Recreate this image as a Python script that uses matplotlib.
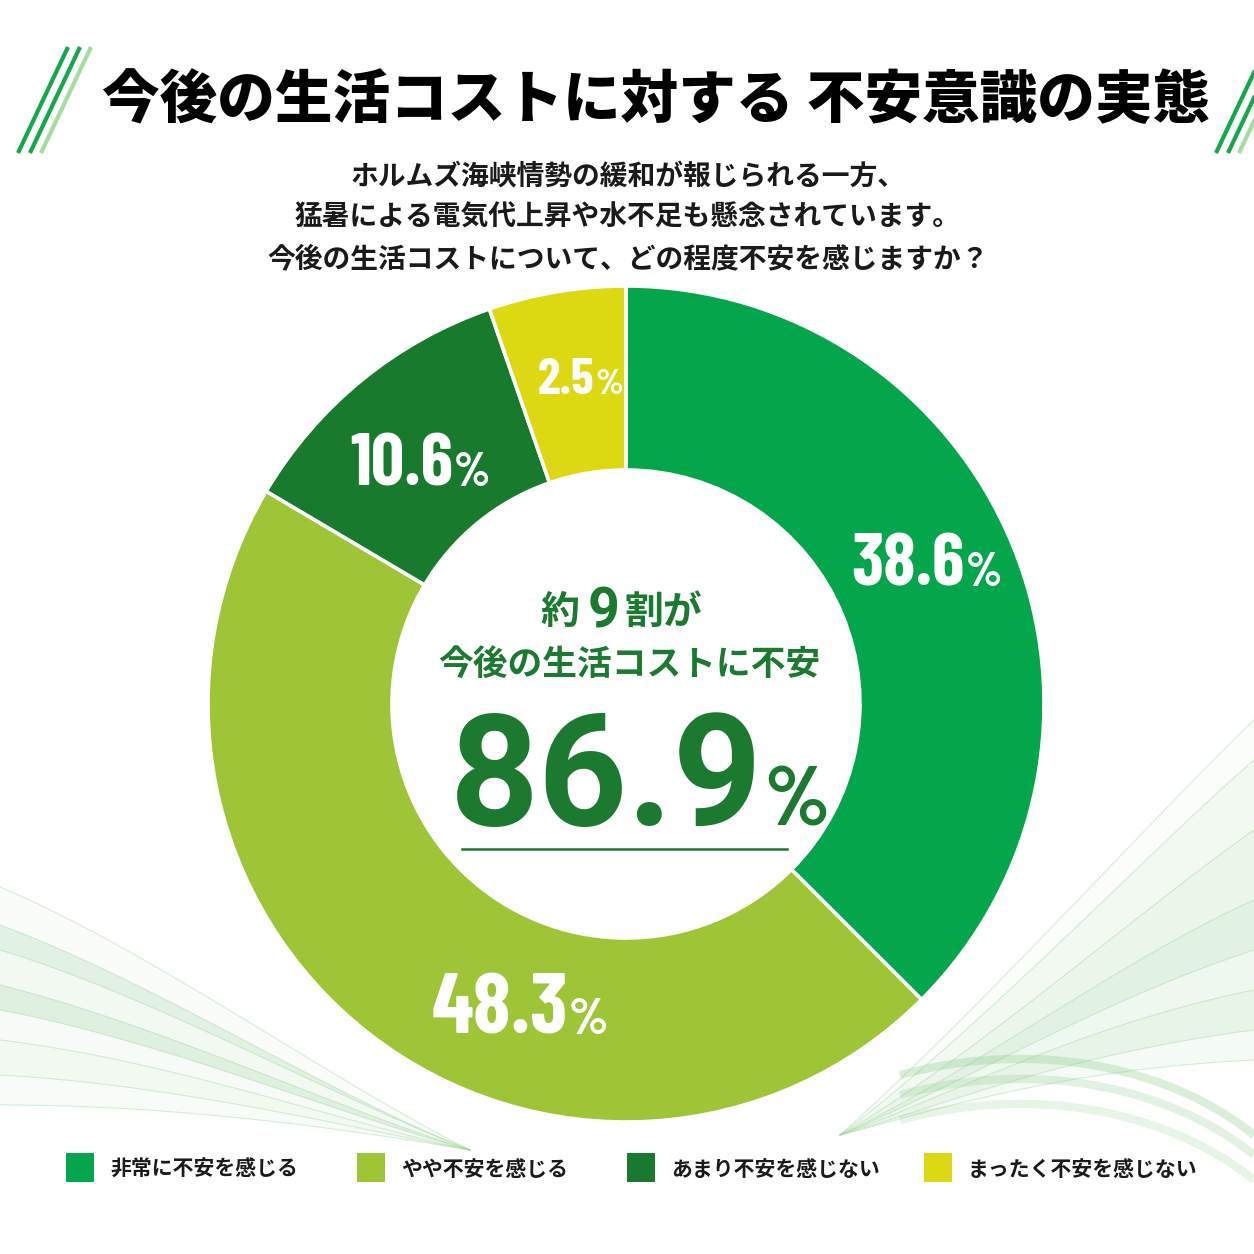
import numpy as np
import matplotlib
matplotlib.use('Agg')
import matplotlib.pyplot as plt
from matplotlib import font_manager as fm
from matplotlib.patches import Rectangle

# ---------------- data ----------------
categories = ['非常に不安を感じる', 'やや不安を感じる', 'あまり不安を感じない', 'まったく不安を感じない']
values = [38.6, 48.3, 10.6, 2.5]                 # labelled percentages
drawn_shares = [37.5, 46.0, 11.2, 5.3]           # slice sizes as drawn in the reference (not to scale)
colors = ['#04A64B', '#9DC535', '#177A2C', '#DCD913']
title = '今後の生活コストに対する 不安意識の実態'
subtitle_lines = ['ホルムズ海峡情勢の緩和が報じられる一方、',
                  '猛暑による電気代上昇や水不足も懸念されています。',
                  '今後の生活コストについて、どの程度不安を感じますか？']
headline_parts = ['約', '9', '割が']
headline2 = '今後の生活コストに不安'
anxious_total = values[0] + values[1]

# ---------------- fonts ----------------
names = {f.name for f in fm.fontManager.ttflist}
JP = ['Noto Sans CJK JP', 'DejaVu Sans']
NUM = ['Roboto', 'DejaVu Sans']
narrow = next((n for n in ['Barlow Condensed', 'Roboto Condensed', 'Liberation Sans Narrow'] if n in names), 'Roboto')
NARROW = [narrow, 'DejaVu Sans']
plt.rcParams['font.family'] = JP

DARK = '#1B7A30'

fig = plt.figure(figsize=(12.54, 12.54), dpi=100)
fig.patch.set_facecolor('white')
ax = fig.add_axes([0, 0, 1, 1])

# ---------------- background swooshes (decoration) ----------------
def bez(p0, p1, p2, p3, n=80):
    t = np.linspace(0, 1, n)[:, None]
    P = [np.array(p) for p in (p0, p1, p2, p3)]
    return ((1-t)**3)*P[0] + 3*((1-t)**2)*t*P[1] + 3*(1-t)*t*t*P[2] + (t**3)*P[3]

def fan(starts, ctrl1, ctrl2, end, alphas):
    curves = [bez(s, c1, c2, end) for s, c1, c2 in zip(starts, ctrl1, ctrl2)]
    for i in range(len(curves) - 1):
        poly = np.vstack([curves[i], curves[i+1][::-1]])
        ax.fill(poly[:, 0], poly[:, 1], color='#7CC87C', alpha=alphas[i], lw=0, zorder=0)
    for c in curves:
        ax.plot(c[:, 0], c[:, 1], color='#8ED08E', alpha=0.35, lw=0.8, zorder=0)

ls = [(0, 887), (0, 925), (0, 950), (0, 985), (0, 1010), (0, 1040), (0, 1075), (0, 1105)]
lc1 = [(150, 950), (150, 980), (150, 995), (160, 1025), (160, 1040), (170, 1060), (180, 1085), (200, 1105)]
lc2 = [(330, 1080), (330, 1095), (340, 1100), (340, 1110), (340, 1115), (350, 1125), (360, 1130), (380, 1135)]
fan(ls, lc1, lc2, (470, 1150), [0.04, 0.22, 0.10, 0.25, 0.06, 0.10, 0.05])

rs = [(1254, 720), (1254, 760), (1254, 830), (1254, 900), (1254, 950), (1254, 990), (1254, 1030), (1254, 1060)]
rc1 = [(1150, 820), (1150, 850), (1140, 910), (1120, 960), (1100, 1000), (1080, 1025), (1060, 1055), (1050, 1070)]
rc2 = [(980, 1010), (980, 1030), (970, 1060), (960, 1080), (950, 1090), (940, 1100), (930, 1110), (920, 1115)]
fan(rs, rc1, rc2, (840, 1135), [0.03, 0.10, 0.16, 0.22, 0.12, 0.18, 0.08])
for y0, a in [(1065, 0.18), (1085, 0.12), (1110, 0.08)]:
    c = bez((900, y0 + 10), (1050, y0 - 30), (1180, y0 + 10), (1254, y0 + 70))
    ax.plot(c[:, 0], c[:, 1], color='#7CC87C', alpha=a + 0.1, lw=6, zorder=0, solid_capstyle='butt')

# ---------------- donut ----------------
R_OUT, R_IN = 418, 234
wedges, _ = ax.pie(drawn_shares, colors=colors, radius=R_OUT, center=(626, 704),
                   startangle=-90, counterclock=True,
                   wedgeprops=dict(width=R_OUT - R_IN, edgecolor='white', linewidth=2.6))
for w in wedges:
    w.set_zorder(2)

ax.set_xlim(0, 1254)
ax.set_ylim(1254, 0)
ax.axis('off')

# wedge labels: (right edge x, baseline y, number pt, percent pt)
label_layout = [(965, 586, 53, 34), (568, 1034, 62, 37), (453, 486, 53, 34), (594, 394, 37, 26)]
for v, (xr, yb, fs, fsp) in zip(values, label_layout):
    ax.text(xr, yb, f'{v:.1f}', family=NARROW, fontsize=fs, fontweight='bold',
            color='white', ha='right', va='baseline', zorder=5)
    ax.text(xr + 1, yb, '%', family=NARROW, fontsize=fsp, fontweight='bold',
            color='white', ha='left', va='baseline', zorder=5)

# ---------------- centre text ----------------
ax.text(579, 624, headline_parts[0], family=JP, fontsize=28, fontweight='bold',
        color=DARK, ha='right', va='baseline', zorder=5)
ax.text(604, 628, headline_parts[1], family=NUM, fontsize=40, fontweight='bold',
        color=DARK, ha='center', va='baseline', zorder=5)
ax.text(624, 624, headline_parts[2], family=JP, fontsize=28, fontweight='bold',
        color=DARK, ha='left', va='baseline', zorder=5)
ax.text(629, 675, headline2, family=JP, fontsize=25, fontweight='bold',
        color=DARK, ha='center', va='baseline', zorder=5)
ax.text(763, 825, f'{anxious_total:.1f}', family=NUM, fontsize=112, fontweight='bold',
        color=DARK, ha='right', va='baseline', zorder=5)
ax.text(764, 826, '%', family=NARROW, fontsize=61, fontweight='bold',
        color=DARK, ha='left', va='baseline', zorder=5)
ax.plot([462, 787], [849, 849], color=DARK, lw=1.8, zorder=5)

# ---------------- title ----------------
ax.text(656, 118, title, family=JP, fontsize=41.5, fontweight='heavy',
        color='black', ha='center', va='baseline', zorder=5)
for dx, col in [(0, '#13A84A'), (12, '#13A84A'), (23, '#A6DCA0')]:
    ax.plot([18 + dx, 68 + dx], [153, 47], color=col, lw=3, solid_capstyle='butt', zorder=5)
    ax.plot([1216 + dx, 1266 + dx], [153, 47], color=col, lw=3, solid_capstyle='butt', zorder=5)

for i, line in enumerate(subtitle_lines):
    ax.text(628, 185 + 41 * i, line, family=JP, fontsize=20, fontweight='bold',
            color='#1A1A1A', ha='center', va='baseline', zorder=5)

# ---------------- legend ----------------
sq_x = [66, 357, 627, 924]
for c, lab, x in zip(colors, categories, sq_x):
    ax.add_patch(Rectangle((x, 1153), 28, 29, facecolor=c, edgecolor='none', zorder=5))
    ax.text(x + 44, 1176, lab, family=JP, fontsize=15, fontweight='bold',
            color='#1A1A1A', ha='left', va='baseline', zorder=5)

fig.savefig('out.png', dpi=100, facecolor='white')
